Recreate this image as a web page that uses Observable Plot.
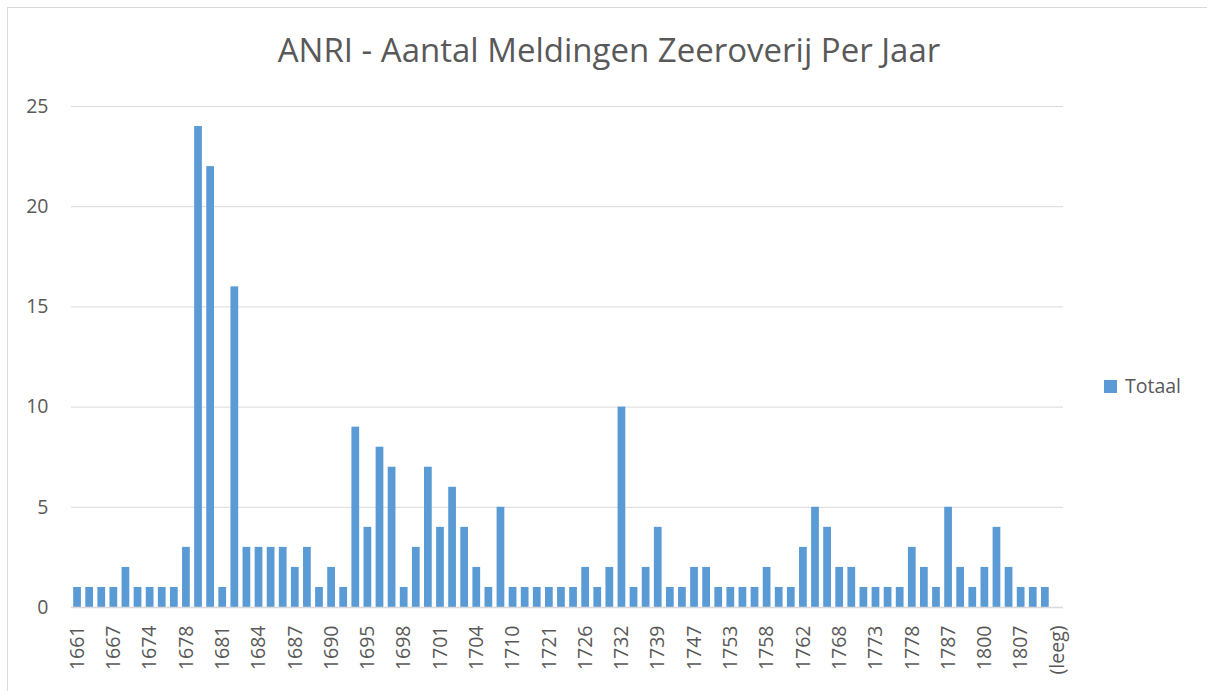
<!DOCTYPE html>
<html>
<head>
<meta charset="utf-8">
<script src="https://cdn.jsdelivr.net/npm/d3@7"></script>
<script src="https://cdn.jsdelivr.net/npm/@observablehq/plot@0.6"></script>
<style>
  body { margin: 0; background: #fff; }
  #wrap { position: relative; width: 1207px; height: 691px; overflow: hidden; font-family: "Open Sans", sans-serif; color: #595959; background: #fff; }
  #border { position: absolute; left: 7px; top: 7px; width: 1400px; height: 900px; border-left: 1px solid #d9d9d9; border-top: 1px solid #d9d9d9; }
  #title { position: absolute; left: 0; top: 33px; width: 1218px; text-align: center; font-size: 33px; line-height: 1; white-space: nowrap; }
  #legend-swatch { position: absolute; left: 1104px; top: 380px; width: 13px; height: 13px; background: #5b9bd5; }
  #legend-label { position: absolute; left: 1125px; top: 376px; font-size: 19.5px; line-height: 1; white-space: nowrap; }
  #chart { position: absolute; left: 0; top: 0; }
</style>
</head>
<body>
<div id="wrap">
  <div id="border"></div>
  <div id="chart"></div>
  <div id="title"></div>
  <div id="legend-swatch"></div>
  <div id="legend-label"></div>
</div>
<script>
const titleText = "ANRI - Aantal Meldingen Zeeroverij Per Jaar";
const seriesName = "Totaal";

const years = [
  "1661","1663","1665","1667","1669","1672","1674","1676","1677","1678",
  "1679","1680","1681","1682","1683","1684","1685","1686","1687","1688",
  "1689","1690","1693","1694","1695","1696","1697","1698","1699","1700",
  "1701","1702","1703","1704","1706","1708","1710","1712","1716","1721",
  "1723","1724","1726","1727","1730","1732","1735","1737","1739","1741",
  "1744","1747","1748","1750","1753","1755","1756","1758","1759","1760",
  "1762","1764","1766","1768","1770","1772","1773","1775","1776","1778",
  "1780","1783","1787","1790","1795","1800","1801","1805","1807","1809",
  "1810","(leeg)"
];

const totals = [
  1,1,1,1,2,1,1,1,1,3,
  24,22,1,16,3,3,3,3,2,3,
  1,2,1,9,4,8,7,1,3,7,
  4,6,4,2,1,5,1,1,1,1,
  1,1,2,1,2,10,1,2,4,1,
  1,2,2,1,1,1,1,2,1,1,
  3,5,4,2,2,1,1,1,1,3,
  2,1,5,2,1,2,4,2,1,1,
  1,null
];

const yTicks = [0, 5, 10, 15, 20, 25];
const xTicks = years.filter((d, i) => i % 3 === 0);

const data = years.map((year, i) => ({ year, total: totals[i] }));

document.getElementById("title").textContent = titleText;
document.getElementById("legend-label").textContent = seriesName;

const chart = Plot.plot({
  width: 1207,
  height: 691,
  marginLeft: 71,
  marginRight: 144,
  marginTop: 106,
  marginBottom: 84,
  style: { fontFamily: "'Open Sans', sans-serif", fontSize: "19.5px", color: "#595959", background: "transparent" },
  x: { type: "band", domain: years, paddingInner: 0.36, paddingOuter: 0.18, round: false, label: null },
  y: { domain: [0, 25], label: null },
  marks: [
    Plot.gridY(yTicks.filter(d => d > 0), { stroke: "#d9d9d9", strokeOpacity: 1, strokeWidth: 1 }),
    Plot.barY(data.filter(d => d.total != null), { x: "year", y: "total", fill: "#5b9bd5" }),
    Plot.ruleY([0], { stroke: "#d9d9d9", strokeWidth: 1.5 }),
    Plot.axisY({ ticks: yTicks, tickSize: 0, tickPadding: 23, label: null }),
    Plot.axisX({ ticks: xTicks, tickSize: 0, tickRotate: -90, tickPadding: 18, label: null })
  ]
});
document.getElementById("chart").appendChild(chart);
</script>
</body>
</html>
